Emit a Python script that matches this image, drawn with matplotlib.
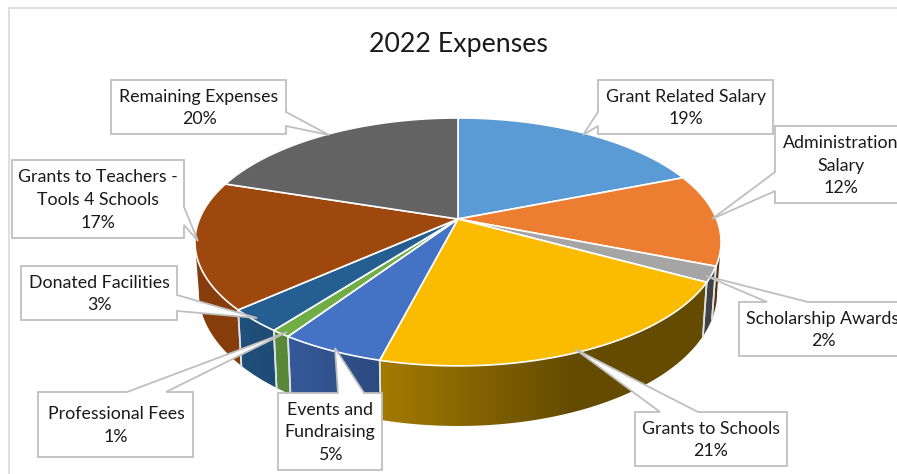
import numpy as np
import matplotlib
matplotlib.use("Agg")
import matplotlib.pyplot as plt
import matplotlib.colors as mcolors
from matplotlib.patches import Polygon

plt.rcParams['font.family'] = ['Lato', 'DejaVu Sans']

title = "2022 Expenses"
categories = ["Grant Related Salary", "Administration\nSalary", "Scholarship Awards",
              "Grants to Schools", "Events and\nFundraising", "Professional Fees",
              "Donated Facilities", "Grants to Teachers -\nTools 4 Schools", "Remaining Expenses"]
values = [19, 12, 2, 21, 5.4, 1, 3, 16.6, 20]
colors = ["#5B9BD5", "#ED7D31", "#A5A5A5", "#FBBC00", "#4472C4",
          "#70AD47", "#255E91", "#9E480E", "#636363"]

# label boxes in pixels: left, top, right, bottom, text x, pointer base a, pointer base b, tip
boxes = [
    (598, 80, 773, 134, 686, (598, 112), (598, 126), (583, 135)),
    (775, 126, 910, 203, 841, (775, 172), (775, 191), (712, 219)),
    (739, 302, 910, 356, 823, (767, 302), (808, 302), (706, 276)),
    (635, 412, 787, 466, 711, (660, 412), (698, 412), (575, 349)),
    (278, 393, 382, 470, 330, (338, 393), (364, 393), (335, 348)),
    (38, 392, 193, 457, 116, (127, 392), (166, 392), (287, 332)),
    (21, 266, 177, 320, 99, (177, 295), (177, 311), (257, 318)),
    (12, 160, 184, 238, 98, (184, 207), (184, 225), (198, 241)),
    (111, 80, 286, 134, 199, (286, 112), (286, 126), (329, 135)),
]

# pie geometry, perspective ellipse around the pie centre
CX, CY = 458, 219
A, B, K = 258.5, 119.7, 0.185
DEPTH = 49
TANGENT = 90 + np.degrees(np.arcsin(K))


def rim(theta):
    # theta in degrees, clockwise from the top
    t = np.radians(theta)
    s = 1 / (1 + K * np.cos(t))
    return CX + A * np.sin(t) * s, CY - B * np.cos(t) * s


def rim_bottom(theta):
    t = np.radians(theta)
    s = 1 / (1 + K * np.cos(t))
    x, y = rim(theta)
    return CX + (x - CX) * 0.985, y + DEPTH * s


def shade(x):
    return np.interp(x, [195, 240, 382, 570, 720], [0.85, 0.85, 0.65, 0.40, 0.40])


fig = plt.figure(figsize=(8.97, 4.74), dpi=100)
ax = fig.add_axes([0, 0, 1, 1])

# chart border
ax.plot([9, 9, 897], [474, 8, 8], color="#D9D9D9", lw=1.2, zorder=0)

edges = np.concatenate([[0], np.cumsum(values)]) / np.sum(values) * 360

# side walls, a horizontal gradient clipped to each wall shape
for i, color in enumerate(colors):
    lo = max(edges[i], TANGENT)
    hi = min(edges[i + 1], 360 - TANGENT)
    if hi <= lo:
        continue
    th = np.linspace(lo, hi, 80)
    xt, yt = rim(th)
    xb, yb = rim_bottom(th)
    wall = Polygon(list(zip(xt, yt)) + list(zip(xb, yb))[::-1], facecolor="none",
                   edgecolor="none", zorder=1)
    ax.add_patch(wall)
    x_grad = np.linspace(min(xt.min(), xb.min()) - 1, max(xt.max(), xb.max()) + 1, 200)
    base = np.array(mcolors.to_rgb(color))
    grad = (shade(x_grad)[:, None] * base)[None, :, :]
    im = ax.imshow(grad, extent=[x_grad[0], x_grad[-1], max(yb.max(), yt.max()) + 1,
                                 min(yb.min(), yt.min()) - 1],
                   aspect="auto", interpolation="bilinear", zorder=1)
    im.set_clip_path(wall)
    for t in (edges[i], edges[i + 1]):
        if TANGENT < t < 360 - TANGENT:
            xa, ya = rim(t)
            xc, yc = rim_bottom(t)
            ax.plot([xa, xc], [ya, yc], color="#DDE3EC", lw=1.2, zorder=2)

# top surface
for i, color in enumerate(colors):
    th = np.linspace(edges[i], edges[i + 1], 80)
    x, y = rim(th)
    pts = [(CX, CY)] + list(zip(x, y))
    ax.add_patch(Polygon(pts, facecolor=color, edgecolor="white", lw=1.2,
                         joinstyle="round", zorder=3))

# callout labels
for name, val, box in zip(categories, values, boxes):
    x0, y0, x1, y1, tx, pa, pb, tip = box
    corners = [(x0, y0), (x1, y0), (x1, y1), (x0, y1)]
    # insert the pointer in the side its base sits on
    if pa[0] == pb[0] and pa[0] == x0:
        pts = corners + [pb, tip, pa]
    elif pa[0] == pb[0]:
        pts = corners[:2] + [pa, tip, pb] + corners[2:]
    else:
        pts = [corners[0], pa, tip, pb] + corners[1:]
    ax.add_patch(Polygon(pts, facecolor="white", edgecolor="#BFBFBF", lw=1.3,
                         joinstyle="miter", zorder=4))
    ax.text(tx, (y0 + y1) / 2 + 1, f"{name}\n{round(val)}%", ha="center", va="center",
            fontsize=12.8, color="#1a1a1a", linespacing=1.5, zorder=5)

ax.text(458, 44, title, ha="center", va="center", fontsize=19.3, color="#1a1a1a")

ax.set_xlim(0, 897)
ax.set_ylim(474, 0)
ax.axis("off")

fig.savefig("out.png", dpi=100)
